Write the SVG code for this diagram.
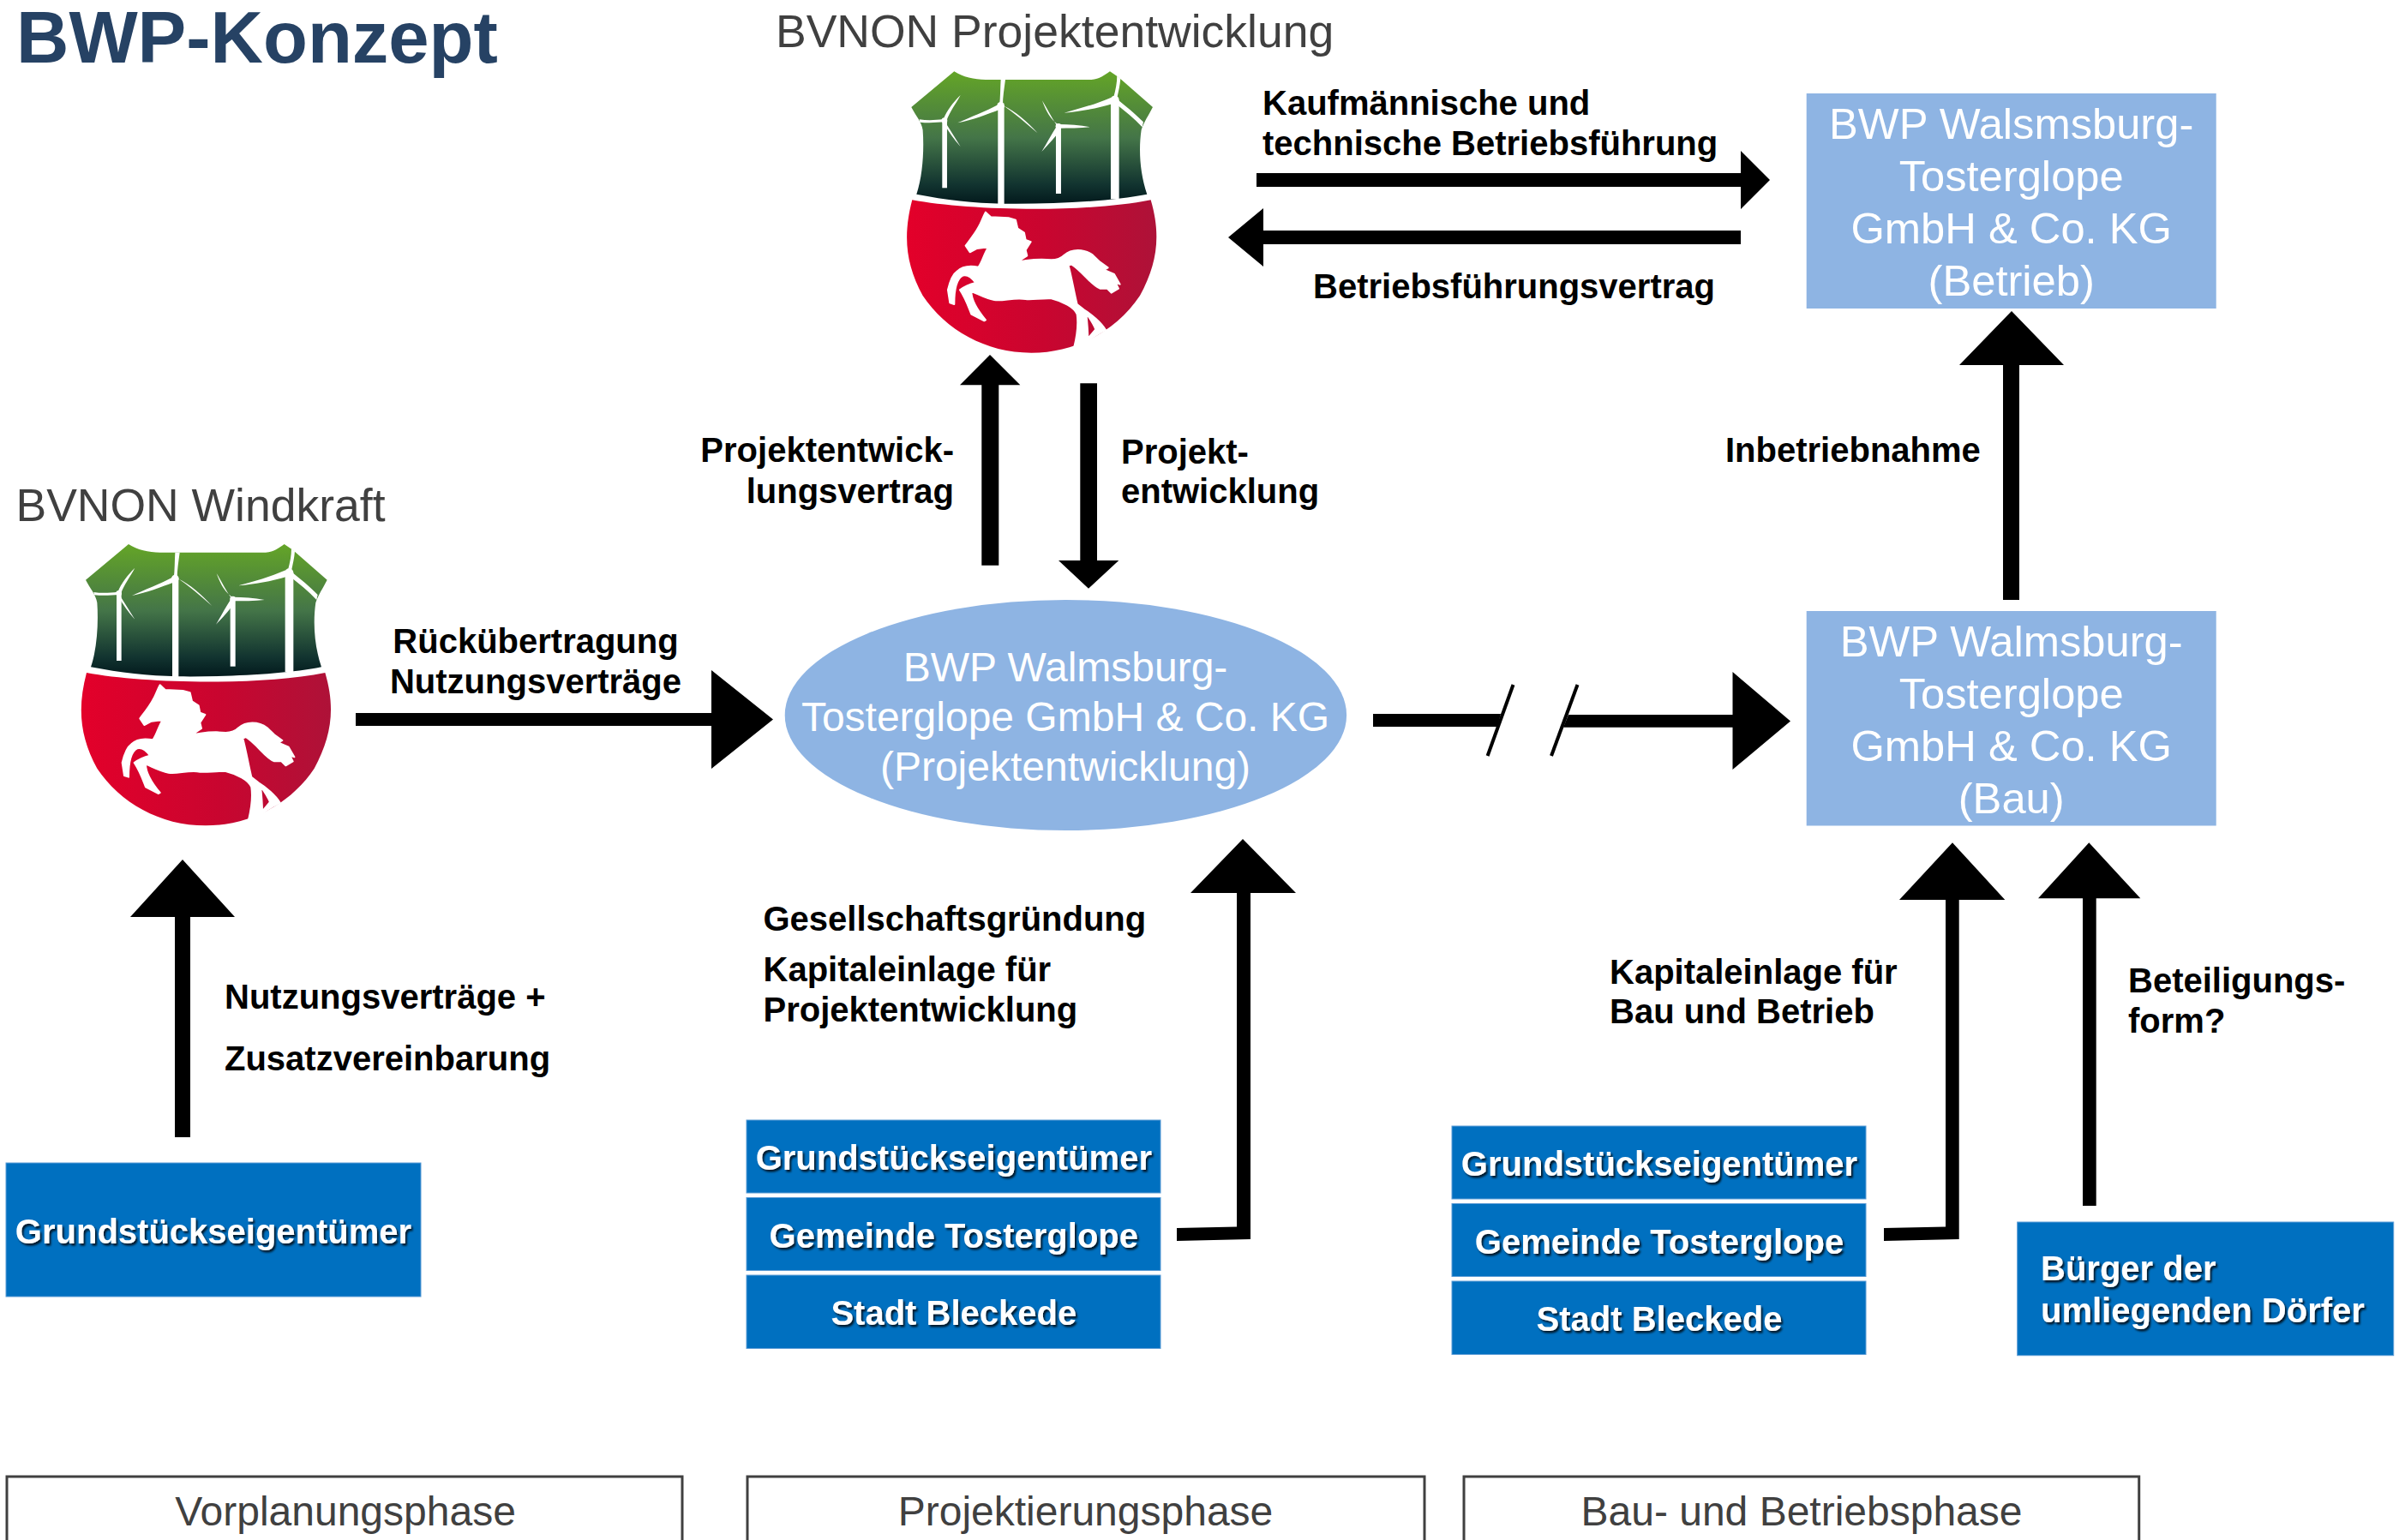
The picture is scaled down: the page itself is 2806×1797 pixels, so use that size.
<svg xmlns="http://www.w3.org/2000/svg" width="2806" height="1797" viewBox="0 0 2806 1797">
<style>
text{font-family:"Liberation Sans",Arial,sans-serif}
.lbl{font-size:40px;font-weight:bold;fill:#000}
.lt{font-size:50.700px;fill:#fff;text-anchor:middle}
.le{font-size:48px;fill:#fff;text-anchor:middle}
.db{fill:#0070C0;stroke:#5b9bd5;stroke-width:1}
.lb{fill:#8EB4E3}
.wb{font-size:40px;font-weight:bold;fill:#fff;filter:url(#sh)}
.ph{fill:#fff;stroke:#404040;stroke-width:3}
.pt{font-size:48px;fill:#404040;text-anchor:middle}
.hd{font-size:53.500px;fill:#404040}
.a{fill:#000}
</style>
<defs>
<filter id="sh" x="-5%" y="-20%" width="110%" height="150%"><feDropShadow dx="2" dy="2.500" stdDeviation="1.200" flood-color="#000" flood-opacity=".8"/></filter>
<linearGradient id="gG" gradientUnits="userSpaceOnUse" x1="0" y1="225" x2="0" y2="690"><stop offset="0" stop-color="#64A527"/><stop offset=".5" stop-color="#447548"/><stop offset=".85" stop-color="#123430"/><stop offset="1" stop-color="#02191C"/></linearGradient>
<linearGradient id="gR" gradientUnits="userSpaceOnUse" x1="285" y1="0" x2="1158" y2="0"><stop offset="0" stop-color="#E3002A"/><stop offset=".55" stop-color="#C9052F"/><stop offset="1" stop-color="#AE1238"/></linearGradient>
<g id="shield">
<path fill="url(#gG)" d="M450 225C480 245 520 253 560 254L930 254C960 252 975 238 995 225L1025 245L1145 350C1130 380 1115 400 1105 430C1095 500 1100 580 1125 655C1000 680 800 690 620 688C520 686 420 675 318 655C340 590 345 500 340 430C335 400 315 380 300 350Z"/>
<g fill="#fff">
<path d="M408 397H425V633H408Z"/><circle cx="416" cy="397" r="10"/>
<path d="M412 393C425 360 445 335 472 308C455 340 435 365 423 398ZM412 392C385 396 355 397 328 393L330 403C360 406 390 404 416 402ZM418 402L472 488C450 465 430 435 412 404Z"/>
<path d="M603 345H625V690H603Z"/><circle cx="613" cy="345" r="13"/>
<path d="M608 345C612 315 611 285 613 254L629 254C625 285 620 315 620 345ZM606 340C560 365 505 385 462 405C515 395 565 375 610 358ZM616 340C660 370 700 405 742 441C705 400 665 365 622 345Z"/>
<path d="M806 415H824V653H806Z"/><circle cx="815" cy="417" r="10"/>
<path d="M808 412C790 385 775 355 758 327C770 360 785 395 820 415ZM815 410C850 410 890 412 926 420C890 424 850 424 815 424ZM808 418C790 445 775 475 756 506C780 480 805 455 822 428Z"/>
<path d="M998 325H1027V672H998Z"/><circle cx="1012" cy="325" r="15"/>
<path d="M1000 316C945 340 890 355 835 370C890 365 950 355 1005 338ZM1008 315C1015 290 1020 265 1020 240L1032 250C1030 275 1025 295 1020 318ZM1020 322C1050 345 1085 375 1112 402L1108 420C1080 390 1050 365 1015 338Z"/>
</g>
<path fill="url(#gR)" d="M303 675C500 712 900 722 1138 675C1175 800 1160 900 1100 1010C1020 1130 880 1210 720 1210C560 1210 420 1130 340 1010C280 900 270 800 303 675Z"/>
<path fill="#fff" stroke="#fff" stroke-width="6" stroke-linejoin="round" fill-rule="evenodd" d="M560 718L578 735L640 738L665 745L672 775L695 790L700 815L718 822L700 850L705 870L675 890C700 890 730 878 790 885C810 885 825 878 835 868C860 845 905 845 935 868L960 892L988 912L975 920L1010 935L1030 970L1015 965L1025 985L1000 1000L985 985L960 985C930 975 900 925 860 900L850 905C860 940 870 1000 880 1040L905 1060C930 1075 965 1105 980 1130L960 1140L912 1170L900 1190L870 1190C880 1150 885 1110 880 1075C870 1050 830 1030 790 1020C760 1018 720 1025 700 1022C660 1015 620 1030 590 1025C560 1020 535 1005 510 995C510 1030 535 1065 560 1095L555 1098L510 1075C500 1050 490 1020 470 990C490 975 505 970 525 965C510 945 495 935 480 940C460 950 450 985 450 1040L435 1035L428 990C435 960 445 935 460 925C480 905 510 905 535 910C550 890 555 860 570 840L530 845L505 858L490 835C505 815 525 790 535 770C545 755 550 735 560 718ZM912 1072C925 1090 938 1110 945 1128L918 1160C918 1130 915 1100 912 1072Z"/>
</g>
</defs>
<rect width="2806" height="1797" fill="#fff"/>
<text id="title" x="19" y="73" font-size="85" font-weight="bold" fill="#264264">BWP-Konzept</text>

<g id="connectors" class="a">
<path d="M1466 202H2031V176L2065 210L2031 244V218H1466Z"/>
<path d="M2031 269H1474V243L1433 277L1474 311V285H2031Z"/>
<path d="M1145.300 659.700V449.300H1120L1155 414L1190.300 449.300H1165.300V659.700Z"/>
<path d="M1260.300 447.300H1280V654H1305.300L1270 686.700L1235 654H1260.300Z"/>
<path d="M2337 700V426H2286L2347 363L2408 426H2356V700Z"/>
<path d="M415 832H830V782L902 839.500L830 897V847H415Z"/>
<path d="M204 1327V1070H152L213 1003L274 1070H222V1327Z"/>
<path d="M1373 1433L1443 1431.500V1042H1389L1450 979L1512 1042H1459V1446L1373 1448Z"/>
<path d="M2198 1433L2270 1431.500V1050H2216L2278 983.300L2339.300 1050H2285.700V1446L2198 1448Z"/>
<path d="M2430 1407V1048.300H2378L2437.300 983.300L2497.300 1048.300H2445.700V1407Z"/>
<path d="M1602 833H1751L1747 848H1602Z"/>
<path d="M1830 834H2021.500V784L2089 841.500L2021.500 898V848.700H1824Z"/>
<path d="M1735.600 882L1765.500 799" stroke="#000" stroke-width="4" fill="none"/>
<path d="M1810 882L1840.500 799" stroke="#000" stroke-width="4" fill="none"/>
</g>

<g id="hd-proj"><text class="hd" x="905" y="55">BVNON Projektentwicklung</text></g>
<g id="hd-wind"><text class="hd" x="18.500" y="608">BVNON Windkraft</text></g>
<g id="shield-wind"><use href="#shield" transform="translate(0,560) scale(.33333)"/></g>
<g id="shield-proj"><use href="#shield" transform="translate(963.300,8.300) scale(.33333)"/></g>

<g id="node-betrieb"><rect class="lb" x="2107.700" y="109" width="478" height="251"/>
<text class="lt" x="2346.700" y="162">BWP Walsmsburg-</text><text class="lt" x="2346.700" y="223">Tosterglope</text><text class="lt" x="2346.700" y="284">GmbH &amp; Co. KG</text><text class="lt" x="2346.700" y="345">(Betrieb)</text></g>
<g id="node-bau"><rect class="lb" x="2107.700" y="713" width="478" height="250.500"/>
<text class="lt" x="2346.700" y="766">BWP Walmsburg-</text><text class="lt" x="2346.700" y="827">Tosterglope</text><text class="lt" x="2346.700" y="888">GmbH &amp; Co. KG</text><text class="lt" x="2346.700" y="948.500">(Bau)</text></g>
<g id="node-projekt"><ellipse class="lb" cx="1243.400" cy="834.500" rx="327.700" ry="134.500"/>
<text class="le" x="1243" y="795">BWP Walmsburg-</text><text class="le" x="1243" y="852.700">Tosterglope GmbH &amp; Co. KG</text><text class="le" x="1243" y="910.700">(Projektentwicklung)</text></g>

<g id="node-g1"><rect class="db" x="7" y="1357" width="484" height="156"/><text class="wb" x="249" y="1450.500" text-anchor="middle">Grundstückseigentümer</text></g>
<g id="node-g2a"><rect class="db" x="871" y="1307" width="483" height="85"/><text class="wb" x="1112.800" y="1365" text-anchor="middle">Grundstückseigentümer</text></g>
<g id="node-g2b"><rect class="db" x="871" y="1397.500" width="483" height="85"/><text class="wb" x="1112.800" y="1455.700" text-anchor="middle">Gemeinde Tosterglope</text></g>
<g id="node-g2c"><rect class="db" x="871" y="1488" width="483" height="85.500"/><text class="wb" x="1112.800" y="1545.700" text-anchor="middle">Stadt Bleckede</text></g>
<g id="node-g3a"><rect class="db" x="1694" y="1314" width="483" height="85"/><text class="wb" x="1936" y="1372" text-anchor="middle">Grundstückseigentümer</text></g>
<g id="node-g3b"><rect class="db" x="1694" y="1404.500" width="483" height="85"/><text class="wb" x="1936" y="1462.500" text-anchor="middle">Gemeinde Tosterglope</text></g>
<g id="node-g3c"><rect class="db" x="1694" y="1495" width="483" height="85.500"/><text class="wb" x="1936" y="1553" text-anchor="middle">Stadt Bleckede</text></g>
<g id="node-buerger"><rect class="db" x="2353.700" y="1426" width="439" height="155.700"/><text class="wb" x="2381" y="1494">Bürger der</text><text class="wb" x="2381" y="1543">umliegenden Dörfer</text></g>

<g id="labels">
<text class="lbl" x="1473" y="134">Kaufmännische und</text><text class="lbl" x="1473" y="181">technische Betriebsführung</text>
<text class="lbl" x="1532" y="348">Betriebsführungsvertrag</text>
<text class="lbl" x="1113" y="539" text-anchor="end">Projektentwick-</text><text class="lbl" x="1113" y="587" text-anchor="end">lungsvertrag</text>
<text class="lbl" x="1308" y="541">Projekt-</text><text class="lbl" x="1308" y="587">entwicklung</text>
<text class="lbl" x="2013" y="539">Inbetriebnahme</text>
<text class="lbl" x="625" y="761.500" text-anchor="middle">Rückübertragung</text><text class="lbl" x="625" y="809" text-anchor="middle">Nutzungsverträge</text>
<text class="lbl" x="262" y="1177">Nutzungsverträge +</text><text class="lbl" x="262" y="1249">Zusatzvereinbarung</text>
<text class="lbl" x="890.500" y="1085.500">Gesellschaftsgründung</text><text class="lbl" x="890.500" y="1145">Kapitaleinlage für</text><text class="lbl" x="890.500" y="1191.500">Projektentwicklung</text>
<text class="lbl" x="1878" y="1148">Kapitaleinlage für</text><text class="lbl" x="1878" y="1194">Bau und Betrieb</text>
<text class="lbl" x="2483" y="1158">Beteiligungs-</text><text class="lbl" x="2483" y="1205">form?</text>
</g>

<g id="phase-1"><rect class="ph" x="8" y="1723" width="788" height="90"/><text class="pt" x="403" y="1780">Vorplanungsphase</text></g>
<g id="phase-2"><rect class="ph" x="872" y="1723" width="790" height="90"/><text class="pt" x="1266.500" y="1780">Projektierungsphase</text></g>
<g id="phase-3"><rect class="ph" x="1708" y="1723" width="787.700" height="90"/><text class="pt" x="2102" y="1780">Bau- und Betriebsphase</text></g>
</svg>
